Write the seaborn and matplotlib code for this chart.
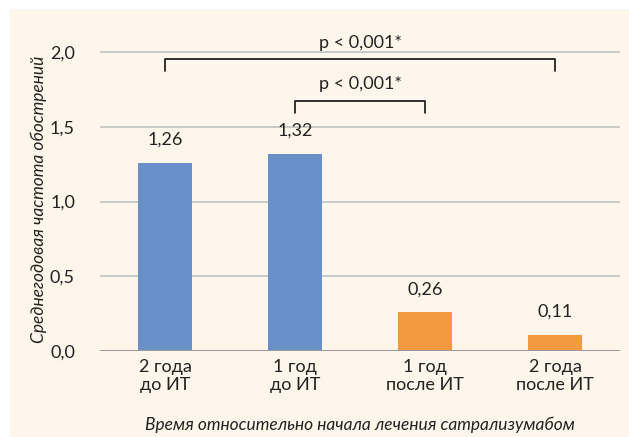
import matplotlib
matplotlib.use("Agg")
import matplotlib.pyplot as plt
import matplotlib.patches as mpatches
from matplotlib.ticker import FixedLocator
import seaborn as sns
import pandas as pd

categories = ["2 года\nдо ИТ", "1 год\nдо ИТ", "1 год\nпосле ИТ", "2 года\nпосле ИТ"]
values = [1.26, 1.32, 0.26, 0.11]
value_labels = ["1,26", "1,32", "0,26", "0,11"]
period = ["до", "до", "после", "после"]
y_ticks = [0.0, 0.5, 1.0, 1.5, 2.0]
y_tick_labels = ["0,0", "0,5", "1,0", "1,5", "2,0"]
p_text = "p < 0,001*"
y_label = "Среднегодовая частота обострений"
x_label = "Время относительно начала лечения сатрализумабом"

sns.set_theme(style="white")
plt.rcParams["font.family"] = ["Lato", "DejaVu Sans"]

W, H = 629, 437
fig = plt.figure(figsize=(W / 100, H / 100), dpi=100)
fig.patch.set_facecolor("white")
fig.patches.append(mpatches.Rectangle((10 / W, 0), 1 - 10 / W, (H - 9) / H,
                                      transform=fig.transFigure, facecolor="#FEF5EB",
                                      edgecolor="none", zorder=-10))

ymax = 2.3
y0 = 351
ppu = 149.5
top_px = y0 - ymax * ppu
ax = fig.add_axes([100 / W, (H - y0) / H, 520 / W, (y0 - top_px) / H])
ax.set_facecolor("none")

df = pd.DataFrame({"cat": categories, "val": values, "period": period})
sns.barplot(data=df, x="cat", y="val", hue="period",
            palette={"до": "#6990C8", "после": "#F3993F"},
            width=0.41, dodge=False, legend=False, ax=ax, zorder=3,
            saturation=1, linewidth=0)

FS = 13
ax.set_xlim(-0.5, 3.5)
ax.set_ylim(0, ymax)
ax.set_yticks(y_ticks)
ax.set_yticklabels(y_tick_labels, fontsize=FS, color="#222222")
for y in y_ticks[1:]:
    ax.axhline(y, color="#C9C9C9", lw=1.4, zorder=1)
ax.axhline(0, color="#9A9A9A", lw=2.2, zorder=4)

for s in ax.spines.values():
    s.set_visible(False)
ax.tick_params(axis="y", length=0, pad=18)
ax.tick_params(axis="x", length=0, pad=6, labelsize=FS, labelcolor="#222222")
ax.xaxis.set_minor_locator(FixedLocator([0.5, 1.5, 2.5]))
ax.tick_params(axis="x", which="minor", direction="in", length=7, color="#C9C9C9", width=1.2)
for lbl in ax.get_xticklabels():
    lbl.set_linespacing(1.1)

ax.set_xlabel(x_label, fontsize=FS - 0.5, style="italic", color="#222222", labelpad=17)
ax.set_ylabel(y_label, fontsize=FS - 0.5, style="italic", color="#222222")

for i, (v, t) in enumerate(zip(values, value_labels)):
    ax.text(i, v + 0.1, t, ha="center", va="bottom", fontsize=FS, color="#222222")

def bracket(x1, x2, yh, yl, ty):
    ax.plot([x1, x1, x2, x2], [yl, yh, yh, yl], color="#111111", lw=1.2, zorder=5)
    ax.text((x1 + x2) / 2, ty, p_text, ha="center", va="bottom", fontsize=FS, color="#222222")

bracket(0, 3, 1.955, 1.875, 2.005)
bracket(1, 2, 1.675, 1.595, 1.735)

ax.yaxis.set_label_coords(-0.102, 0.44)

fig.savefig("out.png", dpi=100, facecolor=fig.get_facecolor())
